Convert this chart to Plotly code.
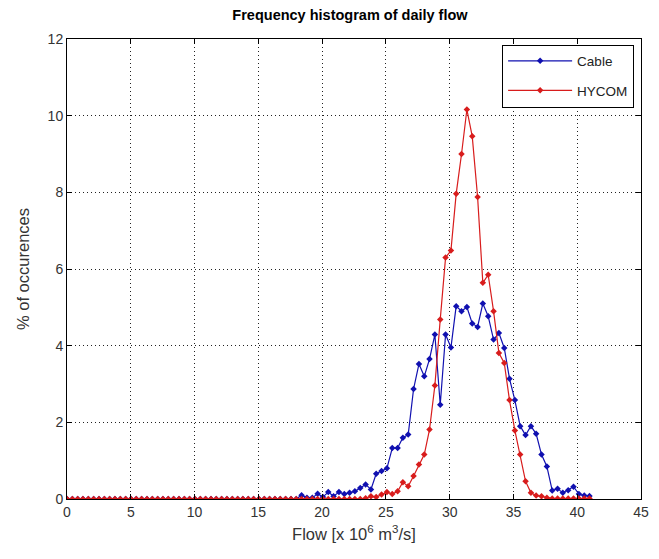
import plotly.graph_objects as go

# Bin centres (x 10^6 m^3/s)
flow = [0.00, 0.42, 0.84, 1.25, 1.67, 2.09, 2.51, 2.93, 3.34, 3.76,
        4.18, 4.60, 5.02, 5.43, 5.85, 6.27, 6.69, 7.11, 7.52, 7.94,
        8.36, 8.78, 9.20, 9.61, 10.03, 10.45, 10.87, 11.29, 11.70, 12.12,
        12.54, 12.96, 13.38, 13.79, 14.21, 14.63, 15.05, 15.47, 15.88, 16.30,
        16.72, 17.14, 17.56, 17.97, 18.39, 18.81, 19.23, 19.65, 20.06, 20.48,
        20.90, 21.32, 21.74, 22.15, 22.57, 22.99, 23.41, 23.83, 24.24, 24.66,
        25.08, 25.50, 25.92, 26.33, 26.75, 27.17, 27.59, 28.01, 28.42, 28.84,
        29.26, 29.68, 30.10, 30.51, 30.93, 31.35, 31.77, 32.19, 32.60, 33.02,
        33.44, 33.86, 34.28, 34.69, 35.11, 35.53, 35.95, 36.37, 36.78, 37.20,
        37.62, 38.04, 38.46, 38.87, 39.29, 39.71, 40.13, 40.55, 40.96]

cable = [0]*44 + [0.10, 0.03, 0.03, 0.14, 0.05, 0.18, 0.07, 0.18, 0.13, 0.16,
                  0.20, 0.29, 0.38, 0.25, 0.66, 0.73, 0.80, 1.33, 1.33, 1.60,
                  1.68, 2.87, 3.52, 3.20, 3.65, 4.29, 2.46, 4.29, 3.95, 5.03,
                  4.90, 5.01, 4.58, 4.49, 5.10, 4.77, 4.16, 4.33, 3.94, 3.14,
                  2.58, 1.90, 1.67, 1.90, 1.70, 1.16, 0.85, 0.22, 0.27, 0.16,
                  0.23, 0.32, 0.13, 0.09, 0.08]

hycom = [0]*56 + [0.02, 0.07, 0.05, 0.12, 0.18, 0.13, 0.20, 0.44, 0.33, 0.60,
                  0.90, 1.16, 1.81, 2.96, 4.68, 6.30, 6.48, 7.96, 9.00, 10.16,
                  9.46, 7.88, 5.64, 5.85, 4.90, 3.81, 3.55, 2.58, 1.79, 1.16,
                  0.46, 0.16, 0.09, 0.07, 0.03, 0.01, 0.01, 0.01, 0.01, 0.01,
                  0.01, 0.01, 0.01]

x_ticks = [0, 5, 10, 15, 20, 25, 30, 35, 40, 45]
y_ticks = [0, 2, 4, 6, 8, 10, 12]

FONT = "Liberation Sans, Arial, sans-serif"
BLUE = "#1010b0"
RED = "#d81c1c"

fig = go.Figure()
fig.add_trace(go.Scatter(
    x=flow, y=cable, name="Cable", mode="lines+markers", legendgroup="a",
    line=dict(color=BLUE, width=1.2),
    marker=dict(symbol="diamond", size=5, color=BLUE),
))
fig.add_trace(go.Scatter(
    x=flow, y=hycom, name="HYCOM", mode="lines+markers", legendgroup="b",
    line=dict(color=RED, width=1.2),
    marker=dict(symbol="diamond", size=5, color=RED),
))

axis_common = dict(
    showline=True, linecolor="black", linewidth=1, mirror="ticks",
    ticks="inside", ticklen=5, tickcolor="black",
    showgrid=True, gridcolor="#222", gridwidth=1, griddash="1px,3px",
    zeroline=False, tickfont=dict(family=FONT, size=14, color="#333"),
)

fig.update_layout(
    width=659, height=559,
    margin=dict(l=67, r=10, t=39, b=60),
    paper_bgcolor="white", plot_bgcolor="white",
    font=dict(family=FONT, size=14, color="#333"),
    title=dict(text="<b>Frequency histogram of daily flow</b>",
               x=350 / 659, xref="container", xanchor="center",
               y=1 - 15 / 559, yref="container", yanchor="middle",
               font=dict(family=FONT, size=14.5, color="black")),
    xaxis=dict(range=[0, 45], tickvals=x_ticks,
               title=dict(text="Flow [x 10<sup>6</sup> m<sup>3</sup>/s]",
                          font=dict(family=FONT, size=16.5, color="#333"),
                          standoff=9),
               **axis_common),
    yaxis=dict(range=[0, 12], tickvals=y_ticks,
               title=dict(text="% of occurences",
                          font=dict(family=FONT, size=16.5, color="#333"),
                          standoff=13),
               **axis_common),
    legend=dict(x=0.988, xanchor="right", y=0.988, yanchor="top",
                bgcolor="white", bordercolor="black", borderwidth=1,
                font=dict(family=FONT, size=13.5, color="#222"),
                itemwidth=64, tracegroupgap=9),
    showlegend=True,
)

fig.write_html("out.html")
